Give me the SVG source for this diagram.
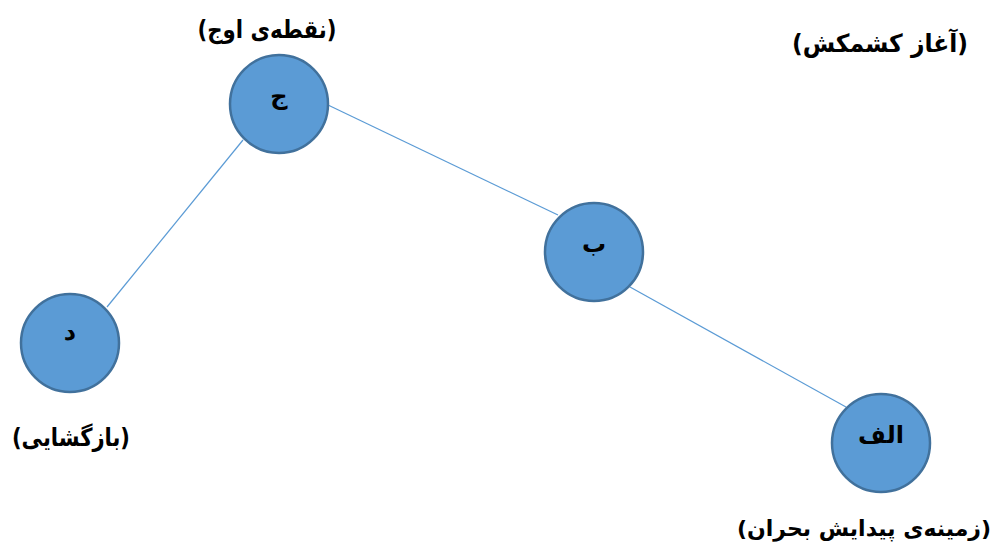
<svg xmlns="http://www.w3.org/2000/svg" width="999" height="552" viewBox="0 0 999 552">
<style>
.node{fill:#5B9BD5;stroke:#41719C;stroke-width:2.5}
.edge{stroke:#5B9BD5;stroke-width:1.2;fill:none}
.nl{font-family:"DejaVu Sans","Noto Sans",sans-serif;font-weight:bold;font-size:24px;fill:#000;text-anchor:middle}
.lbl{font-family:"DejaVu Sans","Noto Sans",sans-serif;font-weight:bold;font-size:25px;fill:#000;text-anchor:middle}
.lbl-s{font-size:22px}
</style>
<rect width="999" height="552" fill="#fff"/>
<g id="connectors">
<line class="edge" x1="328" y1="105" x2="558" y2="215"/>
<line class="edge" x1="243" y1="140" x2="107" y2="307"/>
<line class="edge" x1="630" y1="287" x2="846" y2="407"/>
</g>
<g id="node-j">
<circle class="node" cx="279" cy="104" r="49"/>
<text class="nl" x="279" y="104" direction="rtl">ج</text>
</g>
<g id="node-b">
<circle class="node" cx="594" cy="252" r="49"/>
<text class="nl" x="594" y="252" direction="rtl">ب</text>
</g>
<g id="node-d">
<circle class="node" cx="70" cy="343" r="49"/>
<text class="nl" x="70" y="340" direction="rtl">د</text>
</g>
<g id="node-alef">
<circle class="node" cx="881" cy="443" r="49"/>
<text class="nl" x="881" y="443" direction="rtl">الف</text>
</g>
<g id="labels">
<text class="lbl" x="267" y="38" direction="rtl" textLength="139" lengthAdjust="spacingAndGlyphs">(نقطه‌ی اوج)</text>
<text class="lbl" x="880" y="52" direction="rtl" textLength="176" lengthAdjust="spacingAndGlyphs">(آغاز کشمکش)</text>
<text class="lbl" x="71" y="446" direction="rtl" textLength="118" lengthAdjust="spacingAndGlyphs">(بازگشایی)</text>
<text class="lbl lbl-s" x="864" y="536" direction="rtl">(زمینه‌ی پیدایش بحران)</text>
</g>
</svg>
